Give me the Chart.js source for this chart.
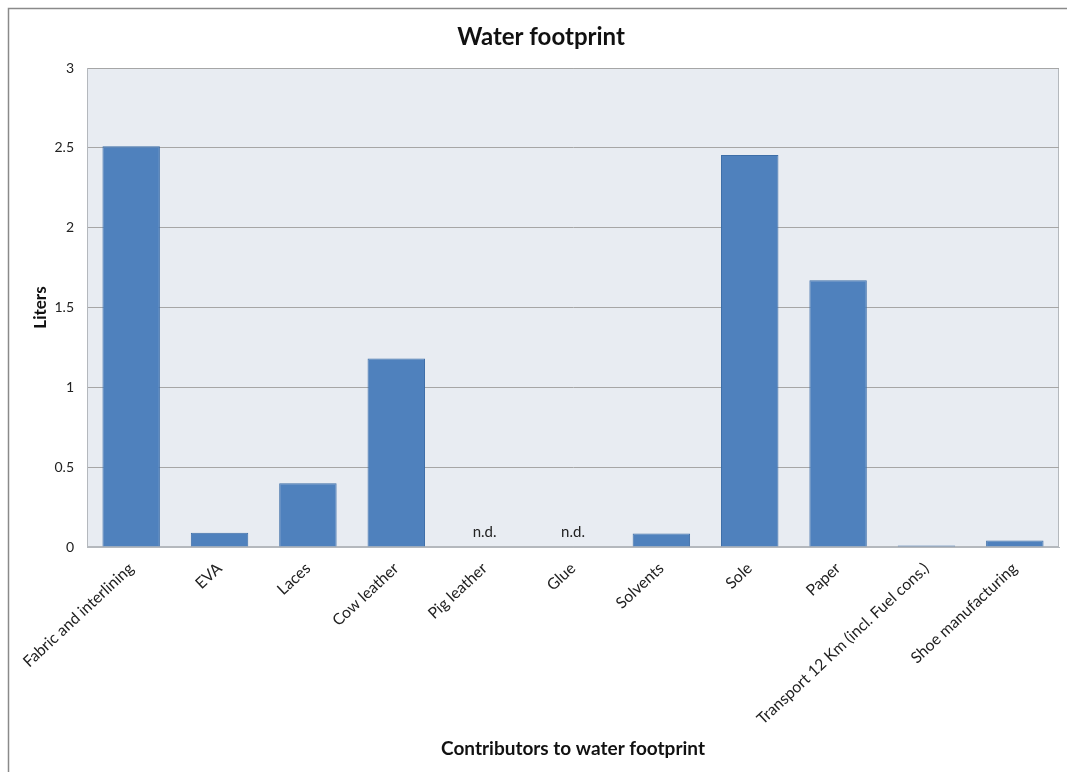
<!DOCTYPE html>
<html>
<head>
<meta charset="utf-8">
<title>Water footprint</title>
<script src="https://cdn.jsdelivr.net/npm/chart.js@4/dist/chart.umd.min.js"></script>
<style>
  html, body { margin: 0; padding: 0; background: #ffffff; }
  #wrap { position: relative; width: 1067px; height: 772px; }
</style>
</head>
<body>
<div id="wrap"><canvas id="chart" width="1067" height="772"></canvas></div>
<script>
// Contributors and their water footprint (liters); null = no data
const categories = [
  'Fabric and interlining', 'EVA', 'Laces', 'Cow leather', 'Pig leather',
  'Glue', 'Solvents', 'Sole', 'Paper', 'Transport 12 Km (incl. Fuel cons.)',
  'Shoe manufacturing'
];
const liters = [2.51, 0.09, 0.40, 1.18, null, null, 0.085, 2.455, 1.67, 0.01, 0.04];
const notes = ['', '', '', '', 'n.d.', 'n.d.', '', '', '', '', ''];
const yTicks = [0, 0.5, 1, 1.5, 2, 2.5, 3];
const chartTitle = 'Water footprint';

const FONT = 'Lato, "Open Sans", sans-serif';

// frame around the chart, title and shaded plot background
const backdrop = {
  id: 'backdrop',
  beforeDraw(chart) {
    const { ctx, chartArea: a } = chart;
    ctx.save();
    ctx.strokeStyle = '#8a8a8a';
    ctx.lineWidth = 1.5;
    ctx.beginPath();
    ctx.moveTo(8.5, chart.height);
    ctx.lineTo(8.5, 8.5);
    ctx.lineTo(chart.width, 8.5);
    ctx.stroke();

    ctx.fillStyle = '#111111';
    ctx.font = 'bold 24px ' + FONT;
    ctx.textAlign = 'center';
    ctx.textBaseline = 'middle';
    ctx.fillText(chartTitle, 541, 37);

    ctx.fillStyle = '#e8ecf2';
    ctx.fillRect(a.left, a.top, a.right - a.left, a.bottom - a.top);
    ctx.strokeStyle = '#b4b8bd';
    ctx.lineWidth = 1;
    ctx.strokeRect(a.left + 0.5, a.top + 0.5, a.right - a.left - 1, a.bottom - a.top - 1);
    ctx.restore();
  }
};

// "n.d." notes for categories without data
const noteLabels = {
  id: 'noteLabels',
  afterDatasetsDraw(chart) {
    const { ctx, scales: { x, y } } = chart;
    ctx.save();
    ctx.font = '15px ' + FONT;
    ctx.fillStyle = '#222222';
    ctx.textAlign = 'center';
    ctx.textBaseline = 'alphabetic';
    notes.forEach((n, i) => {
      if (!n) return;
      ctx.fillText(n, x.getPixelForValue(i), y.getPixelForValue(0) - 10);
    });
    ctx.restore();
  }
};

new Chart(document.getElementById('chart'), {
  type: 'bar',
  data: {
    labels: categories,
    datasets: [{
      label: 'Liters',
      data: liters,
      backgroundColor: '#4f81bd',
      borderColor: '#3d6ea8',
      borderWidth: 1,
      borderSkipped: 'bottom',
      barPercentage: 0.65,
      categoryPercentage: 1.0
    }]
  },
  options: {
    responsive: false,
    animation: false,
    devicePixelRatio: 1,
    layout: { padding: { left: 8, top: 68, right: 8, bottom: 0 } },
    plugins: {
      legend: { display: false },
      tooltip: { enabled: false },
      title: { display: false }
    },
    scales: {
      x: {
        offset: true,
        grid: { display: false, drawTicks: false },
        border: { display: true, color: '#b4b8bd', width: 1 },
        ticks: {
          autoSkip: false,
          minRotation: 43,
          maxRotation: 43,
          padding: 12,
          color: '#222222',
          font: { family: FONT, size: 15.75 }
        },
        title: {
          display: true,
          text: 'Contributors to water footprint',
          color: '#111111',
          font: { family: FONT, size: 19, weight: 'bold' },
          padding: { top: 0, bottom: 12 }
        },
        afterFit(scale) {
          scale.height = 225;
          scale.paddingLeft = 0;
          scale.paddingRight = 0;
        }
      },
      y: {
        min: 0,
        max: 3,
        afterBuildTicks(scale) {
          scale.ticks = yTicks.map(v => ({ value: v }));
        },
        grid: { color: '#a6a6a6', lineWidth: 1, drawTicks: false },
        border: { display: true, color: '#b4b8bd', width: 1 },
        ticks: {
          padding: 13,
          color: '#222222',
          font: { family: FONT, size: 14 },
          callback: v => String(v)
        },
        title: {
          display: true,
          text: 'Liters',
          color: '#111111',
          font: { family: FONT, size: 17, weight: 'bold' },
          padding: { top: 22, bottom: 0 }
        },
        afterFit(scale) {
          scale.width = 79;
        }
      }
    }
  },
  plugins: [backdrop, noteLabels]
});
</script>
</body>
</html>
